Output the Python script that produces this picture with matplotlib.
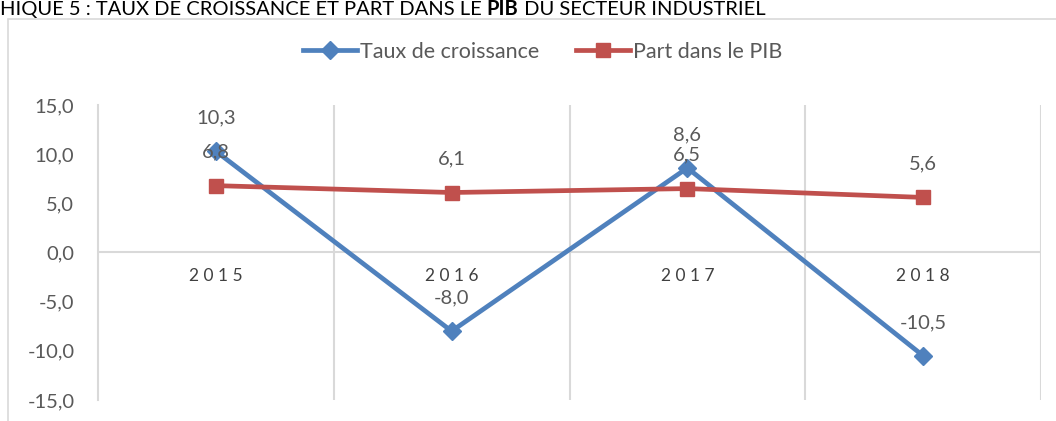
import matplotlib
matplotlib.use("Agg")
import matplotlib.pyplot as plt
from matplotlib.lines import Line2D
from matplotlib.patches import Rectangle

years = ["2015", "2016", "2017", "2018"]
taux_croissance = [10.3, -8.0, 8.6, -10.5]
part_pib = [6.8, 6.1, 6.5, 5.6]
yticks = [-15, -10, -5, 0, 5, 10, 15]

BLUE = "#4F81BD"
RED = "#C0504D"
TXT = "#595959"
GRID = "#D9D9D9"
FONT = "Lato"

W, H = 1056, 421
fig = plt.figure(figsize=(W / 100, H / 100), dpi=100)

def fx(px):
    return px / W

def fy(py):
    return 1 - py / H

# outer chart border
fig.patches.append(Rectangle((fx(8), fy(440)), fx(1060) - fx(8), fy(19) - fy(440),
                             transform=fig.transFigure, fill=False, edgecolor=GRID, lw=1.2))

left, right, top, bottom = 98, 1041, 105, 400
ax = fig.add_axes([fx(left), fy(bottom), fx(right) - fx(left), fy(top) - fy(bottom)])
x = list(range(len(years)))
ax.set_xlim(-0.5, len(years) - 0.5)
ax.set_ylim(-15, 15)

for s in ["top", "right", "bottom"]:
    ax.spines[s].set_visible(False)
ax.spines["left"].set_color(GRID)
ax.spines["left"].set_linewidth(1.5)
ax.axhline(0, color=GRID, lw=1.5, zorder=1)
for b in [0.5, 1.5, 2.5, 3.5]:
    ax.axvline(b, color=GRID, lw=1.5, zorder=1)

ax.set_yticks(yticks)
ax.set_yticklabels([f"{v:.1f}".replace(".", ",") for v in yticks],
                   fontsize=14.5, color=TXT, family=FONT)
ax.tick_params(axis="y", length=0, pad=17)
ax.set_xticks([])

for i, yr in enumerate(years):
    ax.text(i, -1.6, " ".join(yr), ha="center", va="top",
            fontsize=12.5, color="#404040", family=FONT)

ax.plot(x, taux_croissance, color=BLUE, lw=3.4, marker="D", markersize=9,
        zorder=3, solid_joinstyle="miter")
ax.plot(x, part_pib, color=RED, lw=3.4, marker="s", markersize=10.5, zorder=3)

for i in x:
    ax.annotate(f"{taux_croissance[i]:.1f}".replace(".", ","), (i, taux_croissance[i]),
                xytext=(0, 24), textcoords="offset points", ha="center", va="center",
                fontsize=14.5, color=TXT, family=FONT, zorder=5)
    ax.annotate(f"{part_pib[i]:.1f}".replace(".", ","), (i, part_pib[i]),
                xytext=(0, 24), textcoords="offset points", ha="center", va="center",
                fontsize=14.5, color=TXT, family=FONT, zorder=5)

handles = [
    Line2D([], [], color=BLUE, lw=3.4, marker="D", markersize=9),
    Line2D([], [], color=RED, lw=3.4, marker="s", markersize=10.5),
]
fig.legend(handles, ["Taux de croissance", "Part dans le PIB"], loc="center",
           bbox_to_anchor=(fx(543), fy(52)), ncol=2, frameon=False,
           prop={"family": FONT, "size": 15.5}, labelcolor=TXT,
           handlelength=2.5, handletextpad=0.15, columnspacing=1.7)

# title (its start is cropped in the reference), drawn in pieces (PIB bold)
fig.canvas.draw()
renderer = fig.canvas.get_renderer()
pieces = [("HIQUE 5 : TAUX DE CROISSANCE ET PART DANS LE ", "normal"),
          ("PIB", "bold"),
          (" DU SECTEUR INDUSTRIEL", "normal")]
xpos = 0
for txt, wgt in pieces:
    t = fig.text(fx(xpos), fy(15), txt, fontsize=14.5, family=FONT, weight=wgt,
                 color="black", ha="left", va="baseline")
    bb = t.get_window_extent(renderer)
    xpos += bb.width

fig.savefig("out.png", dpi=100)
